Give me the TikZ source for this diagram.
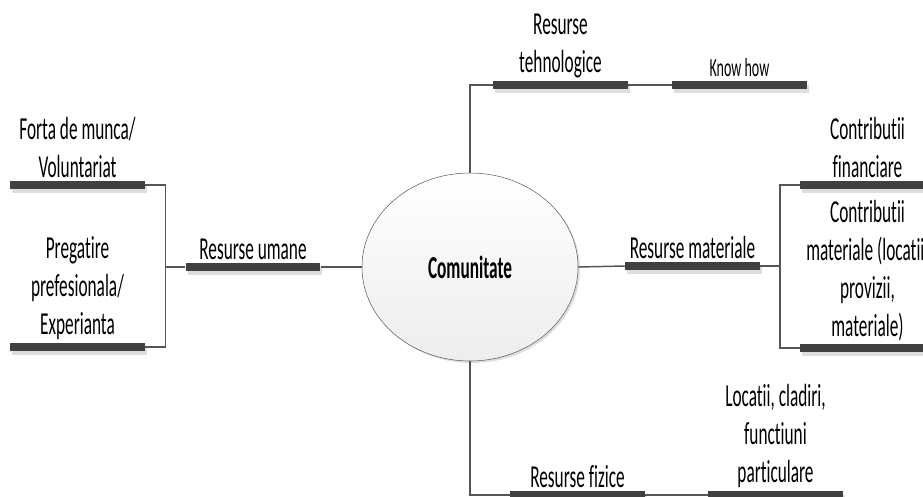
\documentclass[tikz,border=0pt]{standalone}
\usepackage{fontspec}
\setmainfont{Carlito}[FakeStretch=0.54, Ligatures=NoCommon, Contextuals=NoAlternate, RawFeature={-dlig}]
\usetikzlibrary{positioning,shapes.geometric,shadows}
\definecolor{bardark}{RGB}{64,64,64}
\definecolor{linegray}{RGB}{85,85,85}
\definecolor{shadegray}{RGB}{222,222,222}
\definecolor{rimgray}{RGB}{95,95,95}
\tikzset{
  bar/.style={rectangle, fill=bardark, inner sep=0pt, minimum width=101pt, minimum height=5.5pt,
              general shadow={fill=shadegray, shadow xshift=1.5pt, shadow yshift=-3pt}},
  lbl/.style={font=\fontsize{24}{28.5}\selectfont, align=center, inner sep=0pt},
  slbl/.style={lbl, font=\fontsize{19.5}{22}\selectfont},
  conn/.style={draw=linegray, line width=1.1pt},
  hub/.style={ellipse, draw=rimgray, thin, top color=white, bottom color=gray!14,
              minimum width=162pt, minimum height=141pt, inner sep=0pt,
              font=\fontsize{24}{28}\selectfont\bfseries},
}

\begin{document}
\begin{tikzpicture}[x=0.75pt, y=-0.75pt]
  \useasboundingbox (0,0) rectangle (923,496);
  \clip (0,0) rectangle (923,496);
  % centre
  \fill[shadegray] (472,269) ellipse (108 and 94);
  \node[hub] (com) at (470,267) {Comunitate};
  % bars
  \node[bar] (teh)  at (560.5,85) {};
  \node[bar] (know) at (739.5,85) {};
  \node[bar] (uman) at (253,267) {};
  \node[bar] (forta) at (77.5,185) {};
  \node[bar] (preg) at (77.5,347) {};
  \node[bar] (mat)  at (692.5,266) {};
  \node[bar] (fin)  at (867.5,185) {};
  \node[bar] (cmat) at (867.5,348) {};
  \node[bar] (fiz)  at (577.5,495) {};
  \node[bar] (loc)  at (775.5,495) {};
  % labels
  \node[lbl, above=2pt of teh] (tehL) {Resurse\\tehnologice};
  \node[slbl, above=3pt of know] (knowL) {Know how};
  \node[lbl, above=2pt of uman] (umanL) {Resurse umane};
  \node[lbl, above=2pt of forta] (fortaL) {Forta de munca/\\Voluntariat};
  \node[lbl, above=2pt of preg] (pregL) {Pregatire\\prefesionala/\\Experianta};
  \node[lbl, above=2pt of mat] (matL) {Resurse materiale};
  \node[lbl, above=2pt of fin] (finL) {Contributii\\financiare};
  \node[lbl, above=2pt of cmat] (cmatL) {Contributii\\materiale (locatii,\\provizii,\\materiale)};
  \node[lbl, above=2pt of fiz] (fizL) {Resurse fizice};
  \node[lbl, above=2pt of loc] (locL) {Locatii, cladiri,\\functiuni\\particulare};
  % junctions
  \coordinate[left=15pt of uman.west] (jl);
  \coordinate[right=15pt of mat.east] (jr);
  % connectors
  \draw[conn] (com.north) |- (teh.west);
  \draw[conn] (teh.east) -- (know.west);
  \draw[conn] (com.west) -- (uman.east);
  \draw[conn] (uman.west) -- (jl);
  \draw[conn] (forta.east) -| (jl) |- (preg.east);
  \draw[conn] (com.east) -- (mat.west);
  \draw[conn] (mat.east) -- (jr);
  \draw[conn] (fin.west) -| (jr) |- (cmat.west);
  \draw[conn] (com.south) |- (fiz.west);
  \draw[conn] (fiz.east) -- (loc.west);
\end{tikzpicture}
\end{document}
